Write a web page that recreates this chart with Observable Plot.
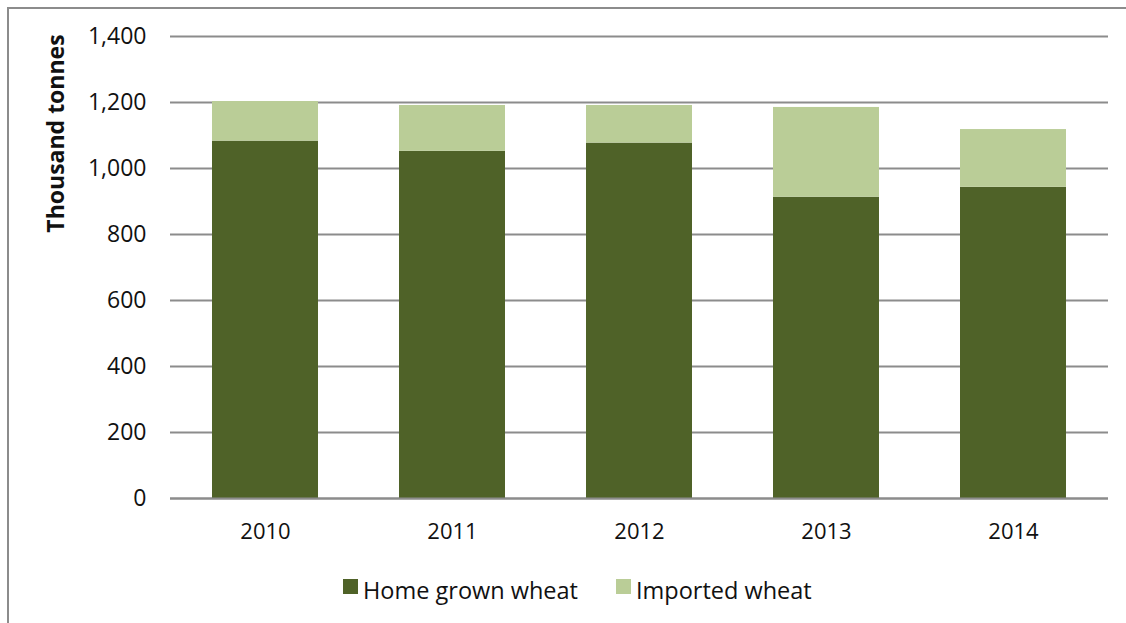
<!DOCTYPE html>
<html>
<head>
<meta charset="utf-8">
<script src="https://cdn.jsdelivr.net/npm/d3@7"></script>
<script src="https://cdn.jsdelivr.net/npm/@observablehq/plot@0.6"></script>
<style>
  html, body { margin: 0; padding: 0; background: #fff; width: 1126px; height: 623px; overflow: hidden; }
  #frame { position: absolute; left: 7px; top: 7px; width: 1130px; height: 630px; border: 2px solid #8c8c8c; box-sizing: border-box; }
  #chart { position: absolute; left: 0; top: 0; }
  #legend { position: absolute; top: 0; left: 0; width: 1126px; height: 623px; font-family: "Open Sans", sans-serif; font-size: 23.5px; color: #111; }
  .sw { position: absolute; width: 15px; height: 15px; }
  .lt { position: absolute; white-space: nowrap; line-height: 1; }
</style>
</head>
<body>
<div id="frame"></div>
<div id="chart"></div>
<div id="legend"></div>
<script>
const years = ["2010", "2011", "2012", "2013", "2014"];
const homeGrown = [1083, 1052, 1077, 913, 943];
const imported = [120, 139, 114, 272, 175];
const seriesNames = ["Home grown wheat", "Imported wheat"];
const seriesColors = ["#4f6228", "#bacd97"];
const yTicks = [0, 200, 400, 600, 800, 1000, 1200, 1400];

const data = [];
years.forEach((y, i) => {
  data.push({year: y, series: seriesNames[0], value: homeGrown[i]});
  data.push({year: y, series: seriesNames[1], value: imported[i]});
});

const chart = Plot.plot({
  width: 1126,
  height: 560,
  marginTop: 36,
  marginBottom: 62,
  marginLeft: 170,
  marginRight: 18,
  style: {fontFamily: "'Open Sans', sans-serif", fontSize: "22px", color: "#111", background: "transparent"},
  x: {domain: years, paddingInner: 0.433, paddingOuter: 0.2165, label: null, tickSize: 0, tickPadding: 24},
  y: {domain: [0, 1400], ticks: yTicks, tickFormat: d3.format(","), label: null, tickSize: 0, tickPadding: 24},
  color: {domain: seriesNames, range: seriesColors},
  marks: [
    Plot.gridY(yTicks, {stroke: "#8c8c8c", strokeWidth: 2, strokeOpacity: 1}),
    Plot.barY(data, Plot.stackY({x: "year", y: "value", fill: "series", order: seriesNames})),
    Plot.ruleY([0], {stroke: "#8c8c8c", strokeWidth: 2}),
    Plot.axisX({tickSize: 0, tickPadding: 25, fontSize: 22}),
    Plot.axisY({ticks: yTicks, tickFormat: d3.format(","), tickSize: 0, tickPadding: 24, fontSize: 23}),
    Plot.text(["Thousand tonnes"], {frameAnchor: "left", textAnchor: "middle", dx: -114, dy: -134, rotate: -90, fontWeight: "bold", fontSize: 23, fill: "#111"})
  ]
});
document.getElementById("chart").appendChild(chart);

const legend = document.getElementById("legend");
const swatchX = [343, 616];
seriesNames.forEach((name, i) => {
  const sw = document.createElement("div");
  sw.className = "sw";
  sw.style.left = swatchX[i] + "px";
  sw.style.top = "579px";
  sw.style.background = seriesColors[i];
  legend.appendChild(sw);
  const t = document.createElement("span");
  t.className = "lt";
  t.style.left = (swatchX[i] + 20) + "px";
  t.style.top = "579px";
  t.textContent = name;
  legend.appendChild(t);
});
</script>
</body>
</html>
